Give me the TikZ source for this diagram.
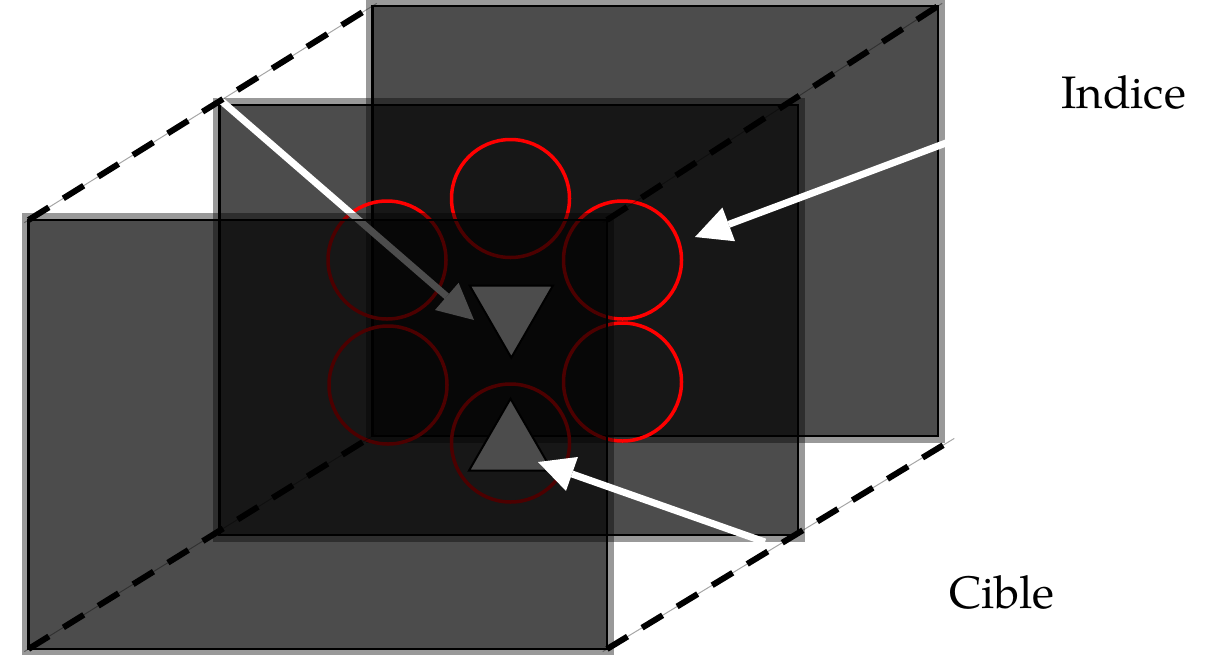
\documentclass[tikz,border=0pt]{standalone}
\usepackage{fontspec}
\setmainfont{TeX Gyre Pagella}
\usetikzlibrary{arrows.meta,shapes.geometric}

\begin{document}
\begin{tikzpicture}[x=1pt,y=-1pt,
  halo/.style={draw=black,draw opacity=0.4,line width=6pt},
  panel/.style={fill=black,fill opacity=0.7,draw=black,line width=2.8pt},
  ring/.style={circle,draw=red,line width=3.5pt,minimum size=118pt,inner sep=0pt},
  marker/.style={regular polygon,regular polygon sides=3,fill=white,draw=black,
    line width=2pt,minimum size=96pt,inner sep=0pt},
  pointer/.style={draw=white,line width=7pt,
    -{Triangle[length=36pt,width=36pt,line width=0pt]}},
  guide/.style={draw=black,draw opacity=0.35,line width=1pt,
    shorten <=-5pt,shorten >=-5pt},
  guidedash/.style={draw=black,line width=6pt,dash pattern=on 24pt off 17pt},
  caption/.style={font=\fontsize{45.5}{52}\selectfont,anchor=base west,inner sep=0pt}
]
\useasboundingbox (0,0) rectangle (1225,654);

% panel corners
\coordinate (bTL) at (372.5,6);   \coordinate (bBR) at (938,436);
\coordinate (bTR) at (938,6);     \coordinate (bBL) at (372.5,436);
\coordinate (mTL) at (219.5,105); \coordinate (mBR) at (798,535);
\coordinate (fTL) at (28.5,220);  \coordinate (fBR) at (607,649);
\coordinate (fTR) at (607,220);   \coordinate (fBL) at (28.5,649);
\coordinate (gBR) at (950,441);

% back panel
\draw[halo] (368.5,2) rectangle (942,440);
\draw[panel] (bTL) rectangle (bBR);

% middle panel
\draw[halo] (215.5,101) rectangle (802,539);
\draw[panel] (mTL) rectangle (mBR);

% ring of cue circles
\node[ring] (cT)  at (510.5,198.5) {};
\node[ring] (cUL) at (387,260) {};
\node[ring] (cUR) at (622.5,260) {};
\node[ring] (cLL) at (388,385) {};
\node[ring] (cLR) at (622.5,382) {};
\node[ring] (cB)  at (510.5,443) {};

% target markers
\node[marker,shape border rotate=180] (down) at (511.3,309.7) {};
\node[marker] (up) at (510.5,446.7) {};

% pointer lying between middle and front panels
\coordinate (p1s) at (218,98);
\coordinate (p1e) at (474,320);
\draw[pointer] (p1s) -- (p1e);

% front panel
\draw[halo] (24.5,216) rectangle (611,653);
\draw[panel] (fTL) rectangle (fBR);

% labelled pointers
\coordinate (p2s) at (946,143);
\coordinate (p2e) at (695,237);
\draw[pointer] (p2s) -- (p2e);
\coordinate (p3s) at (765,542);
\coordinate (p3e) at (538,462);
\draw[pointer] (p3s) -- (p3e);

% depth guides joining the corners
\draw[guide] (fTL) -- (bTL);
\draw[guide] (fTR) -- (bTR);
\draw[guide] (fBL) -- (bBL);
\draw[guide] (fBR) -- (gBR);
\draw[guidedash] (fTL) -- (bTL);
\draw[guidedash] (fTR) -- (bTR);
\draw[guidedash] (fBL) -- (bBL);
\draw[guidedash] (fBR) -- (gBR);

% captions
\node[caption] (indice) at (1061,108) {Indice};
\node[caption] (cible) at (949,608) {Cible};
\end{tikzpicture}
\end{document}
